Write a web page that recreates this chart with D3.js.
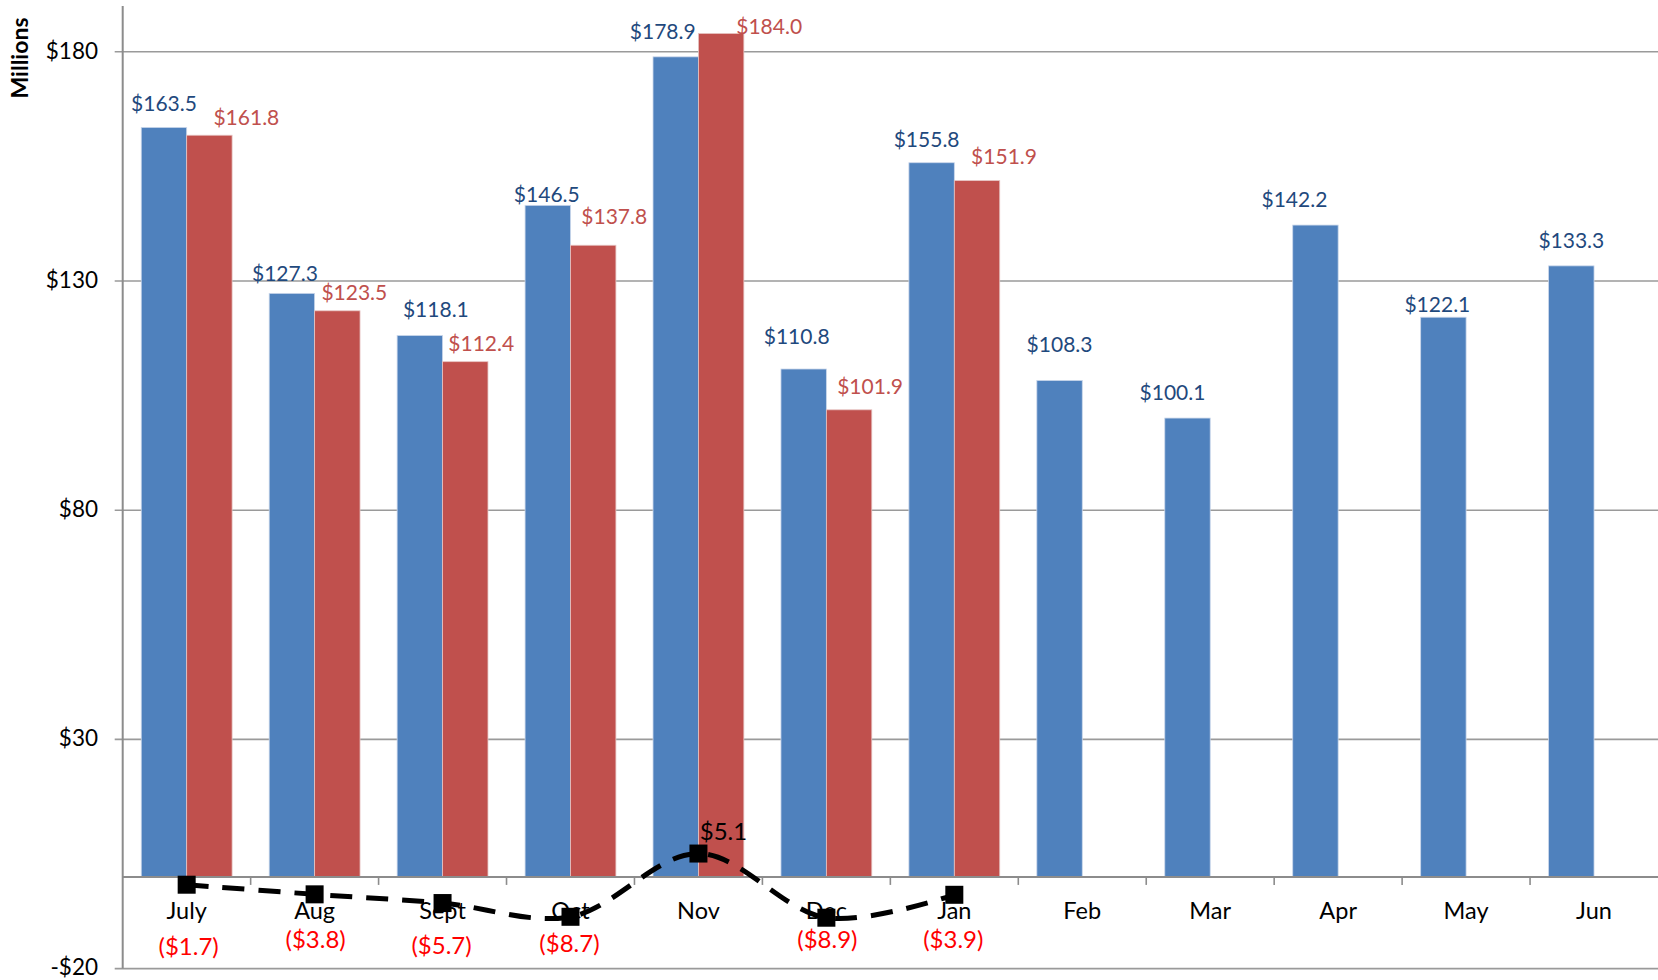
<!DOCTYPE html>
<html><head><meta charset="utf-8">
<script src="https://cdn.jsdelivr.net/npm/d3@7/dist/d3.min.js"></script>
<style>html,body{margin:0;padding:0;background:#fff;}svg{display:block;}</style>
</head><body>
<svg id="c" width="1658" height="980"></svg>
<script>
// ---- data ----
const months = ["July","Aug","Sept","Oct","Nov","Dec","Jan","Feb","Mar","Apr","May","Jun"];
const priorYear = [163.5,127.3,118.1,146.5,178.9,110.8,155.8,108.3,100.1,142.2,122.1,133.3];
const currentYear = [161.8,123.5,112.4,137.8,184.0,101.9,151.9,null,null,null,null,null];
const difference = [-1.7,-3.8,-5.7,-8.7,5.1,-8.9,-3.9,null,null,null,null,null];
const yTicks = [-20,30,80,130,180];

// label nudges (px) as placed in the reference
const priorNudge = [[0,-24],[-7,-20],[16,-26],[-1,-11],[-13,-25],[-7,-33],[-5,-23],[0,-36],[-15,-26],[-21,-26],[-6,-13],[0,-25]];
const currentNudge = [[37,-18],[17,-18],[16,-18],[21,-29],[48,-7],[21,-23],[27,-24]];
const diffNudge = [[2,62],[1,45],[-1,42],[-1,27],[25,-22],[1,22],[-1,45]];

(function(){
const svg = d3.select("#c");
const font = "Lato, 'Open Sans', sans-serif";
const left = 122.7, right = 1658, plotTop = 6;
const y = d3.scaleLinear().domain([-20,180]).range([968.6,51.8]);
const x = d3.scaleBand().domain(months).range([left,right]);
const bw = x.bandwidth();
const barW = bw*0.355;
const cx = m => x(m) + bw/2;

// gridlines
svg.append("g").selectAll("line").data(yTicks).join("line")
  .attr("x1", left-8).attr("x2", right).attr("y1", d=>y(d)).attr("y2", d=>y(d))
  .attr("stroke", "#9a9a9a").attr("stroke-width", 1.6);

// y tick labels
svg.append("g").selectAll("text").data(yTicks).join("text")
  .attr("x", 98).attr("y", d=>y(d)).attr("dy","0.3em").attr("text-anchor","end")
  .attr("font-family", font).attr("font-size", 22.5).attr("fill","#000")
  .text(d => d<0 ? "-$"+Math.abs(d) : "$"+d);

// axis title
svg.append("text").attr("transform","translate(28,58) rotate(-90)")
  .attr("text-anchor","middle").attr("font-family",font).attr("font-weight","bold")
  .attr("font-size",23).text("Millions");

// bars
const gb = svg.append("g");
gb.selectAll("rect.p").data(months).join("rect")
  .attr("x", (m)=>cx(m)-barW).attr("width", barW)
  .attr("y", (m,i)=>y(priorYear[i])).attr("height",(m,i)=>y(0)-y(priorYear[i]))
  .attr("fill","#4f81bd").attr("stroke","#c9d6ea").attr("stroke-width",0.8);
gb.selectAll("rect.c").data(months.filter((m,i)=>currentYear[i]!=null)).join("rect")
  .attr("x", (m)=>cx(m)).attr("width", barW)
  .attr("y", (m,i)=>y(currentYear[i])).attr("height",(m,i)=>y(0)-y(currentYear[i]))
  .attr("fill","#c0504d").attr("stroke","#e6c4c3").attr("stroke-width",0.8);

// y axis line
svg.append("line").attr("x1",left).attr("x2",left).attr("y1",plotTop).attr("y2",y(-20))
  .attr("stroke","#8c8c8c").attr("stroke-width",2);
// x axis at zero
svg.append("line").attr("x1",left).attr("x2",right).attr("y1",y(0)).attr("y2",y(0))
  .attr("stroke","#8c8c8c").attr("stroke-width",2);
svg.append("g").selectAll("line").data(months.slice(1)).join("line")
  .attr("x1",m=>x(m)).attr("x2",m=>x(m)).attr("y1",y(0)).attr("y2",y(0)+8)
  .attr("stroke","#8c8c8c").attr("stroke-width",1.6);

// category labels
svg.append("g").selectAll("text").data(months).join("text")
  .attr("x", m=>cx(m)).attr("y", y(0)+34).attr("dy","0.36em").attr("text-anchor","middle")
  .attr("font-family",font).attr("font-size",23.5).attr("fill","#000").text(m=>m);

// bar labels
svg.append("g").selectAll("text").data(months).join("text")
  .attr("x",(m,i)=>cx(m)-barW/2+priorNudge[i][0])
  .attr("y",(m,i)=>y(priorYear[i])+priorNudge[i][1]).attr("dy","0.36em")
  .attr("text-anchor","middle").attr("font-family",font).attr("font-size",21)
  .attr("fill","#1f497d").text((m,i)=>"$"+priorYear[i].toFixed(1));
svg.append("g").selectAll("text").data(months.filter((m,i)=>currentYear[i]!=null)).join("text")
  .attr("x",(m,i)=>cx(m)+barW/2+currentNudge[i][0])
  .attr("y",(m,i)=>y(currentYear[i])+currentNudge[i][1]).attr("dy","0.36em")
  .attr("text-anchor","middle").attr("font-family",font).attr("font-size",21)
  .attr("fill","#c0504d").text((m,i)=>"$"+currentYear[i].toFixed(1));

// difference line
const pts = months.map((m,i)=>({m,v:difference[i],i})).filter(d=>d.v!=null);
const line = d3.line().x(d=>cx(d.m)).y(d=>y(d.v)).curve(d3.curveCatmullRom.alpha(0.5));
svg.append("path").attr("d", line(pts)).attr("fill","none").attr("stroke","#000")
  .attr("stroke-width",5).attr("stroke-dasharray","22,14");
svg.append("g").selectAll("rect").data(pts).join("rect")
  .attr("x",d=>cx(d.m)-9).attr("y",d=>y(d.v)-9).attr("width",18).attr("height",18).attr("fill","#000");
svg.append("g").selectAll("text").data(pts).join("text")
  .attr("x",d=>cx(d.m)+diffNudge[d.i][0]).attr("y",d=>y(d.v)+diffNudge[d.i][1]).attr("dy","0.36em")
  .attr("text-anchor","middle").attr("font-family",font).attr("font-size",24)
  .attr("fill",d=>d.v<0?"#ff0000":"#000")
  .text(d=>d.v<0?"($"+Math.abs(d.v).toFixed(1)+")":"$"+d.v.toFixed(1));
})();
</script>
</body></html>
